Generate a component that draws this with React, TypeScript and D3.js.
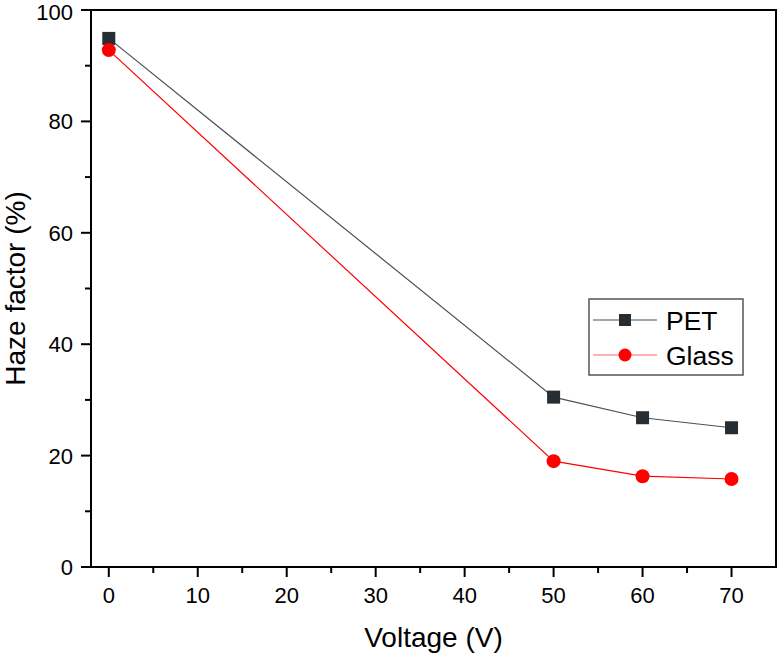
import React from "react";
import * as d3 from "d3";

const voltages = [0, 50, 60, 70];
const petValues = [94.9, 30.5, 26.8, 25.0];
const glassValues = [92.8, 19.0, 16.3, 15.8];
const xTicks = [0, 10, 20, 30, 40, 50, 60, 70];
const yTicks = [0, 20, 40, 60, 80, 100];
const seriesNames = ["PET", "Glass"];

const W = 779;
const H = 656;
const M = { left: 91, right: 3, top: 10, bottom: 89 };

export default function App() {
  const x = d3.scaleLinear().domain([-2, 75]).range([M.left, W - M.right]);
  const y = d3.scaleLinear().domain([0, 100]).range([H - M.bottom, M.top]);
  const x0 = M.left, x1 = W - M.right, y0 = H - M.bottom, y1 = M.top;
  const xMinor = xTicks.map((t) => t + 5).filter((t) => t < 75);
  const yMinor = yTicks.map((t) => t + 10).filter((t) => t < 100);

  const line = d3
    .line<[number, number]>()
    .x((d) => x(d[0]))
    .y((d) => y(d[1]));
  const pet: [number, number][] = voltages.map((v, i) => [v, petValues[i]]);
  const glass: [number, number][] = voltages.map((v, i) => [v, glassValues[i]]);

  const petColor = "#262d33";
  const petLine = "#4a5257";
  const glassColor = "#ff0000";
  const font = "Liberation Sans, Arial, sans-serif";
  const sq = 13;
  const lx = 589, ly = 299, lw = 154, lh = 76;

  return (
    <svg
      width={W}
      height={H}
      style={{ position: "absolute", left: 0, top: 0, background: "#fff" }}
      fontFamily={font}
    >
      {/* frame */}
      <rect x={x0} y={y1} width={x1 - x0} height={y0 - y1} fill="none" stroke="#000" strokeWidth={2} />
      {/* y ticks */}
      {yTicks.map((t) => (
        <g key={"y" + t}>
          <line x1={x0 - 10} x2={x0} y1={y(t)} y2={y(t)} stroke="#000" strokeWidth={2} />
          <text x={x0 - 18} y={Math.max(y(t), 12)} dy="0.36em" textAnchor="end" fontSize={22}>
            {t}
          </text>
        </g>
      ))}
      {yMinor.map((t) => (
        <line key={"ym" + t} x1={x0 - 6} x2={x0} y1={y(t)} y2={y(t)} stroke="#000" strokeWidth={2} />
      ))}
      {/* x ticks */}
      {xTicks.map((t) => (
        <g key={"x" + t}>
          <line x1={x(t)} x2={x(t)} y1={y0} y2={y0 + 10} stroke="#000" strokeWidth={2} />
          <text x={x(t)} y={y0 + 36} textAnchor="middle" fontSize={22}>
            {t}
          </text>
        </g>
      ))}
      {xMinor.map((t) => (
        <line key={"xm" + t} x1={x(t)} x2={x(t)} y1={y0} y2={y0 + 6} stroke="#000" strokeWidth={2} />
      ))}
      {/* titles */}
      <text x={(x0 + x1) / 2} y={647} textAnchor="middle" fontSize={28}>
        Voltage (V)
      </text>
      <text
        transform={`translate(25,${(y0 + y1) / 2}) rotate(-90)`}
        textAnchor="middle"
        fontSize={28}
      >
        Haze factor (%)
      </text>
      {/* series */}
      <path d={line(pet) || ""} fill="none" stroke={petLine} strokeWidth={1.2} />
      <path d={line(glass) || ""} fill="none" stroke={glassColor} strokeWidth={1.2} />
      {pet.map((d, i) => (
        <rect key={"p" + i} x={x(d[0]) - sq / 2} y={y(d[1]) - sq / 2} width={sq} height={sq} fill={petColor} />
      ))}
      {glass.map((d, i) => (
        <circle key={"g" + i} cx={x(d[0])} cy={y(d[1])} r={7} fill={glassColor} />
      ))}
      {/* legend */}
      <rect x={lx} y={ly} width={lw} height={lh} fill="#fff" stroke="#555" strokeWidth={1.5} />
      <line x1={593} x2={657} y1={320} y2={320} stroke={petLine} strokeWidth={1.2} />
      <rect x={625 - 6} y={320 - 6} width={12} height={12} fill={petColor} />
      <text x={666} y={329.5} fontSize={26.5}>
        {seriesNames[0]}
      </text>
      <line x1={593} x2={657} y1={355} y2={355} stroke="#ff6070" strokeWidth={1.2} />
      <circle cx={625} cy={355} r={6.5} fill={glassColor} />
      <text x={666} y={364.5} fontSize={26.5}>
        {seriesNames[1]}
      </text>
    </svg>
  );
}
